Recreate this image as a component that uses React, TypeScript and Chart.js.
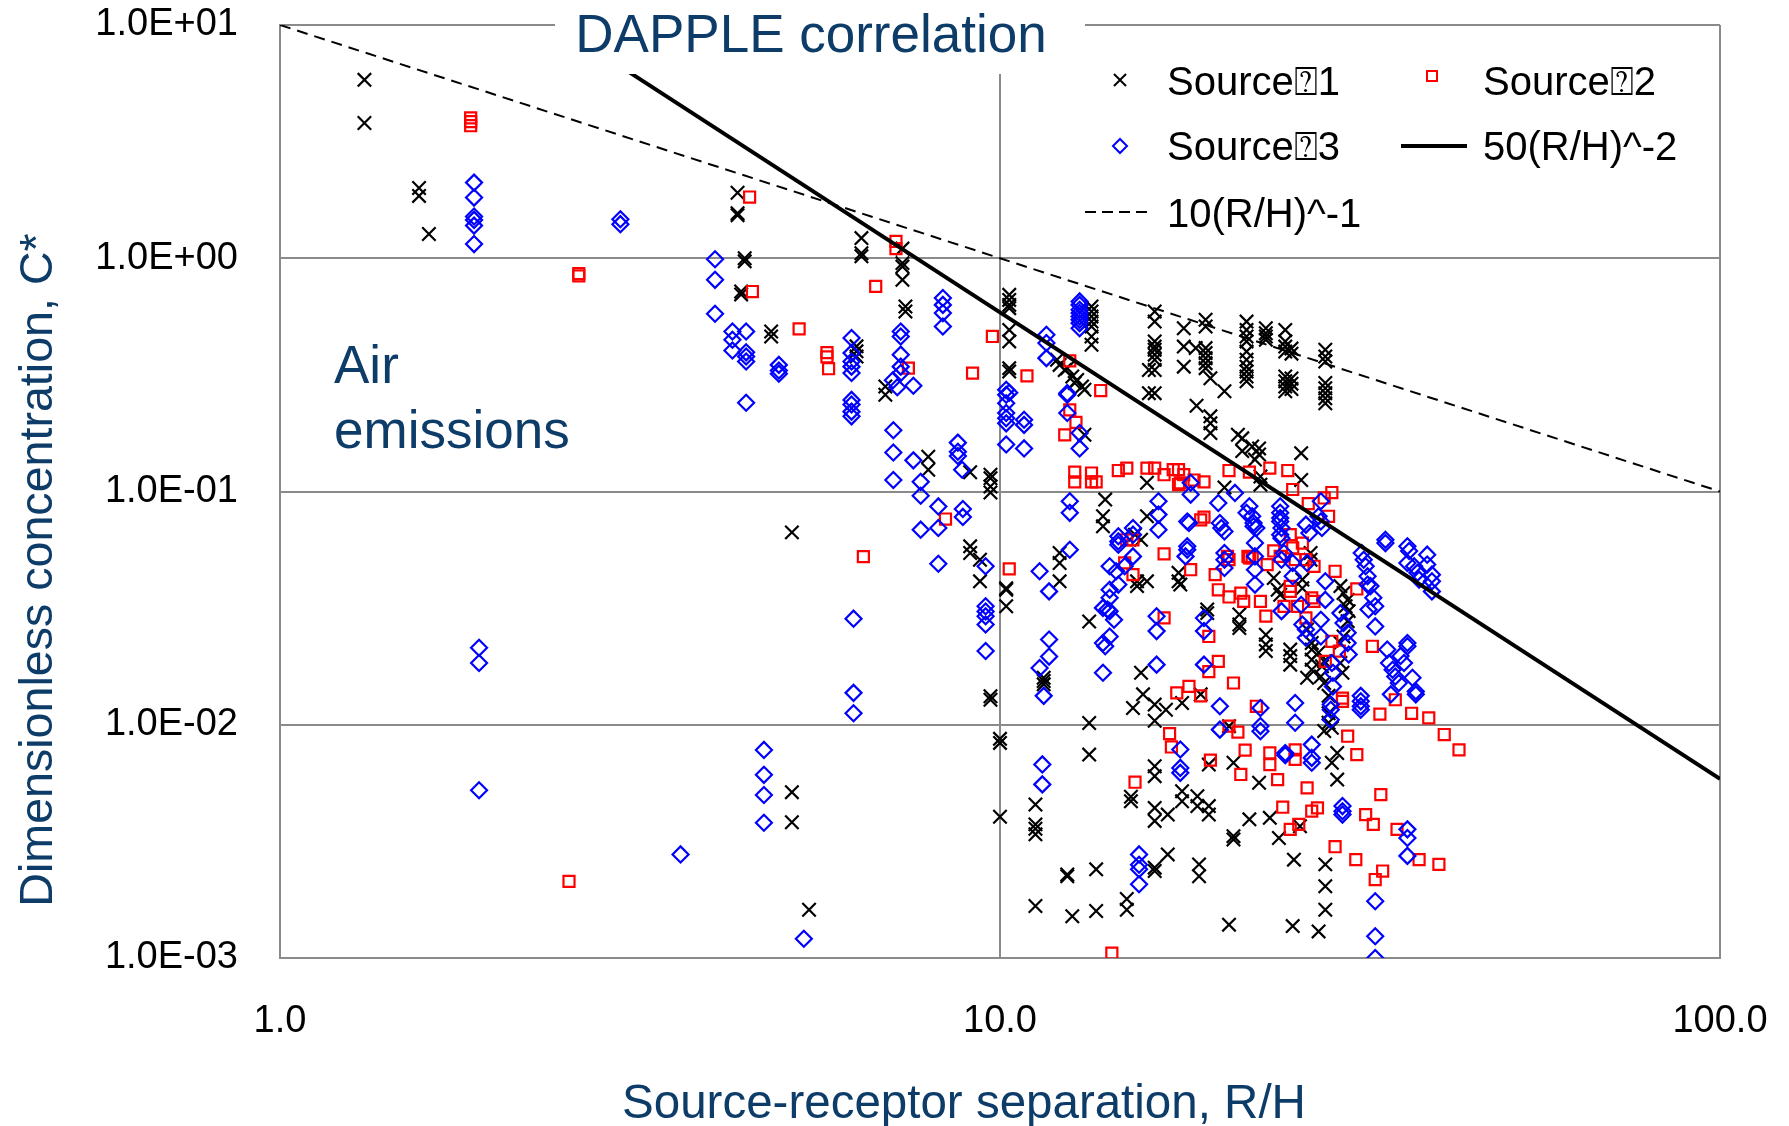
import React, { useEffect, useRef } from "react";
import { Chart, registerables } from "chart.js";

Chart.register(...registerables);

type Pt = [number, number];

// Source 1 (black crosses): [R/H, C*]
const source1: Pt[] = [
  [1.31, 5.82], [1.31, 3.8], [1.56, 2.0], [1.56, 1.85], [1.61, 1.27],
  [4.32, 1.91], [4.32, 1.56], [4.32, 1.53], [4.42, 1.0], [4.42, 0.97], [4.37, 0.72], [4.37, 0.7], [4.81, 0.485], [4.81, 0.462],
  [6.42, 1.22], [6.42, 1.05], [6.42, 1.02], [6.32, 0.419], [6.32, 0.399], [6.32, 0.379],
  [7.32, 1.1], [7.32, 0.953], [7.32, 0.921], [7.32, 0.808], [7.39, 0.621], [7.39, 0.591],
  [6.93, 0.282], [6.93, 0.26], [7.95, 0.141], [7.95, 0.124], [9.09, 0.121], [9.09, 0.0582], [9.09, 0.0545],
  [9.7, 0.118], [9.7, 0.114], [9.7, 0.105], [9.7, 0.099], [9.38, 0.051], [9.38, 0.0412],
  [9.7, 0.01325], [9.7, 0.0128], [10.0, 0.0087], [10.0, 0.00836], [10.0, 0.00403],
  [13.3, 0.0277], [13.3, 0.01017], [13.3, 0.00745], [11.5, 0.0159], [11.5, 0.0154], [11.5, 0.0149],
  [11.2, 0.00455], [11.2, 0.00374], [11.2, 0.00358], [11.2, 0.00339], [11.2, 0.00167], [12.4, 0.00228], [12.4, 0.00224],
  [13.6, 0.0024], [13.6, 0.00159], [12.6, 0.00151], [15.0, 0.00179], [15.0, 0.00161], [15.2, 0.00491], [15.2, 0.0047],
  [5.14, 0.0668], [5.14, 0.00514], [5.14, 0.00382], [5.43, 0.00161],
  [10.3, 0.697], [10.3, 0.663], [10.3, 0.631], [10.3, 0.611], [10.3, 0.493], [10.3, 0.44], [10.3, 0.338], [10.3, 0.327],
  [13.4, 0.621], [13.4, 0.591], [13.4, 0.563], [13.4, 0.535], [13.4, 0.51], [13.4, 0.462], [13.4, 0.426],
  [12.0, 0.367], [12.1, 0.349], [12.3, 0.332], [12.4, 0.338], [12.6, 0.311], [12.8, 0.301], [13.0, 0.282], [13.1, 0.273], [12.7, 0.292],
  [13.1, 0.175],
  [16.4, 0.591], [16.4, 0.535], [16.4, 0.44], [16.4, 0.418], [16.4, 0.405], [16.4, 0.386], [16.4, 0.367], [16.4, 0.332], [16.4, 0.264],
  [18.0, 0.501], [18.0, 0.418], [18.0, 0.343], [18.7, 0.412],
  [19.3, 0.545], [19.3, 0.51], [19.3, 0.412], [19.3, 0.392], [19.3, 0.373], [19.3, 0.355], [19.3, 0.338],
  [19.6, 0.306], [20.5, 0.269], [18.75, 0.233], [19.6, 0.21], [19.6, 0.196], [19.6, 0.178],
  [16.1, 0.332], [16.1, 0.264],
  [22.0, 0.535], [22.0, 0.493], [22.0, 0.462], [22.0, 0.44], [22.0, 0.398], [22.0, 0.367], [22.0, 0.343], [22.0, 0.327], [22.0, 0.311], [22.0, 0.297],
  [23.4, 0.501], [23.4, 0.477], [23.4, 0.462], [23.4, 0.447],
  [24.9, 0.493], [24.9, 0.44], [24.9, 0.418], [24.9, 0.398], [24.9, 0.311], [24.9, 0.297], [24.9, 0.282], [24.9, 0.269],
  [25.4, 0.41], [25.4, 0.39], [25.4, 0.305], [25.4, 0.29], [25.4, 0.275],
  [28.3, 0.405], [28.3, 0.379], [28.3, 0.361], [28.3, 0.292], [28.3, 0.277], [28.3, 0.264], [28.3, 0.251], [28.3, 0.239],
  [21.4, 0.175], [21.7, 0.169], [22.4, 0.156], [22.9, 0.153], [22.9, 0.144], [22.6, 0.137], [21.7, 0.149],
  [26.2, 0.146], [26.2, 0.112], [23.0, 0.116], [23.0, 0.107], [20.5, 0.104], [16.0, 0.109], [14.0, 0.0923],
  [10.2, 0.0385], [10.2, 0.0379], [10.2, 0.0322],
  [12.1, 0.0545], [12.1, 0.0494], [12.1, 0.0412],
  [13.9, 0.0783], [13.9, 0.0709],
  [15.4, 0.0653], [15.7, 0.0621], [15.5, 0.0412], [15.5, 0.0393], [16.0, 0.0412], [16.0, 0.0783],
  [17.7, 0.0448], [17.7, 0.0412], [17.8, 0.0399],
  [15.7, 0.0167], [15.8, 0.0135], [15.3, 0.0118], [16.4, 0.0122], [17.0, 0.0116], [17.9, 0.0124], [16.4, 0.0104], [19.0, 0.0135],
  [19.4, 0.0312], [19.4, 0.0301],
  [21.5, 0.0297], [21.5, 0.0269], [21.5, 0.026],
  [23.4, 0.0243], [23.4, 0.0221], [23.4, 0.0207],
  [25.3, 0.021], [25.3, 0.0197], [25.3, 0.0181],
  [24.0, 0.0426], [24.3, 0.0379], [24.5, 0.0361],
  [26.3, 0.0419], [26.3, 0.0385], [27.0, 0.0545], [27.0, 0.051],
  [26.7, 0.0256], [27.1, 0.0224], [27.1, 0.021], [27.1, 0.019], [27.1, 0.0172], [26.7, 0.0159],
  [27.7, 0.0204], [28.2, 0.0187], [28.0, 0.0178], [27.9, 0.0161],
  [29.7, 0.0393], [30.0, 0.0367], [30.4, 0.0343], [30.2, 0.0322], [30.5, 0.0307], [30.4, 0.0278], [30.0, 0.0239], [29.7, 0.0224], [29.7, 0.0184], [29.9, 0.0167],
  [28.6, 0.0112], [28.6, 0.0102], [28.9, 0.0097], [28.2, 0.0094], [28.2, 0.0151], [28.6, 0.0133],
  [20.8, 0.00986],
  [16.4, 0.00664], [16.4, 0.00602], [16.4, 0.0044], [16.4, 0.00387], [17.1, 0.00412],
  [17.1, 0.00278], [16.4, 0.00244], [16.4, 0.00236],
  [17.9, 0.00519], [17.9, 0.0047], [18.8, 0.00494], [18.8, 0.00448], [19.5, 0.00448], [19.5, 0.00412], [19.5, 0.00675],
  [21.1, 0.00687], [21.1, 0.00333], [21.1, 0.00322], [22.2, 0.00393], [22.9, 0.00564], [23.7, 0.00399], [24.4, 0.00327],
  [18.9, 0.00252], [18.9, 0.00224], [20.8, 0.00139],
  [25.6, 0.00264], [25.5, 0.00137], [27.7, 0.0013],
  [28.3, 0.00252], [28.3, 0.00203], [28.3, 0.00161],
  [29.4, 0.00757], [28.9, 0.00687], [29.4, 0.00582], [26.1, 0.00367],
];

// Source 2 (red squares)
const source2: Pt[] = [
  [1.84, 4.0], [1.84, 3.85], [1.84, 3.7], [2.6, 0.86], [2.6, 0.84], [2.52, 0.00213],
  [4.49, 1.83], [4.53, 0.72], [5.26, 0.498], [5.75, 0.394], [5.75, 0.378], [5.78, 0.336],
  [6.72, 0.757], [7.17, 1.18], [7.17, 1.1], [7.46, 0.338], [9.16, 0.322], [9.76, 0.462], [10.9, 0.313], [12.5, 0.363], [13.8, 0.271],
  [6.46, 0.0526], [8.4, 0.0762], [10.3, 0.0466], [14.3, 0.00105], [15.4, 0.00567],
  [12.3, 0.175], [12.5, 0.224], [12.75, 0.198],
  [12.7, 0.121], [12.7, 0.11], [13.4, 0.12], [13.4, 0.11], [13.6, 0.11], [14.6, 0.123], [15.0, 0.126], [16.0, 0.126], [16.4, 0.126], [16.9, 0.118],
  [17.4, 0.124], [17.7, 0.124], [18.0, 0.118], [17.8, 0.109], [18.6, 0.112], [19.2, 0.11], [17.7, 0.107],
  [20.8, 0.123], [22.2, 0.121], [23.7, 0.126], [25.1, 0.123], [25.5, 0.102], [26.8, 0.0887], [28.2, 0.0938], [28.9, 0.099],
  [15.0, 0.0621], [15.3, 0.0621], [15.3, 0.044], [14.9, 0.0494], [16.9, 0.054], [16.9, 0.0287], [18.4, 0.0462], [19.0, 0.0756], [19.2, 0.0777],
  [19.9, 0.044], [20.1, 0.0379], [20.8, 0.0353], [21.6, 0.0367], [21.8, 0.0338], [23.0, 0.0338], [23.4, 0.0292],
  [19.5, 0.0239], [20.1, 0.0187], [19.5, 0.0169], [21.1, 0.0151], [18.3, 0.0146], [17.6, 0.0137], [19.0, 0.0133],
  [20.7, 0.0527], [20.8, 0.051], [22.1, 0.0527], [22.2, 0.0519], [22.4, 0.0519],
  [23.5, 0.0486], [24.0, 0.0556], [24.5, 0.0527], [25.3, 0.0653], [25.5, 0.0573], [26.3, 0.0601], [25.7, 0.051], [26.6, 0.051], [27.3, 0.0478], [29.2, 0.0455],
  [25.3, 0.0392], [25.3, 0.0373], [24.8, 0.0322], [25.9, 0.0322], [27.1, 0.035], [27.3, 0.0338], [26.6, 0.0287],
  [31.3, 0.0382], [28.9, 0.0228], [29.6, 0.0207], [28.3, 0.0187], [29.9, 0.013], [29.9, 0.0126],
  [32.9, 0.0217], [35.4, 0.0128], [33.7, 0.0111], [37.3, 0.0112], [39.4, 0.0107], [41.4, 0.00908],
  [22.7, 0.012], [17.2, 0.00916], [20.8, 0.00986], [21.4, 0.0093], [30.4, 0.00893], [28.6, 0.0783],
  [17.3, 0.00803], [19.6, 0.00705], [21.6, 0.00612], [21.9, 0.00778], [23.7, 0.00757], [23.7, 0.00675], [24.3, 0.00582],
  [25.7, 0.0078], [25.7, 0.0071], [26.7, 0.00536], [24.7, 0.00443], [25.3, 0.00356], [26.0, 0.00374], [27.1, 0.00426], [27.6, 0.0044],
  [31.3, 0.00745], [29.2, 0.003], [31.2, 0.00264], [32.2, 0.00412], [33.0, 0.00374], [33.8, 0.00502], [35.6, 0.00356],
  [38.2, 0.00264], [40.7, 0.00252], [33.2, 0.00217], [34.0, 0.00236], [43.4, 0.0078],
];

// Source 3 (blue diamonds)
const source3: Pt[] = [
  [1.86, 2.11], [1.86, 1.82], [1.86, 1.51], [1.86, 1.46], [1.86, 1.38], [1.86, 1.15],
  [1.89, 0.0214], [1.89, 0.0184], [1.89, 0.00524],
  [2.97, 1.47], [2.97, 1.4],
  [4.02, 0.99], [4.02, 0.808], [4.02, 0.578],
  [4.25, 0.485], [4.25, 0.447], [4.25, 0.402],
  [4.44, 0.485], [4.44, 0.395], [4.44, 0.379], [4.44, 0.361], [4.44, 0.24],
  [4.93, 0.349], [4.93, 0.33], [4.93, 0.32],
  [4.7, 0.0078], [4.7, 0.0061], [4.7, 0.005], [4.7, 0.0038],
  [3.6, 0.00278], [5.34, 0.00121],
  [6.22, 0.455], [6.22, 0.392], [6.22, 0.361], [6.22, 0.343], [6.22, 0.322], [6.22, 0.247], [6.22, 0.236], [6.22, 0.22], [6.22, 0.21],
  [6.26, 0.0285], [6.26, 0.0137], [6.26, 0.0112],
  [7.11, 0.183], [7.11, 0.147], [7.11, 0.112],
  [7.58, 0.284], [7.58, 0.136],
  [7.28, 0.485], [7.28, 0.462], [7.28, 0.386], [7.28, 0.343], [7.28, 0.322], [7.1, 0.3], [7.2, 0.28],
  [8.33, 0.675], [8.33, 0.631], [8.33, 0.582], [8.33, 0.51],
  [7.76, 0.11], [7.76, 0.0959], [7.76, 0.0686],
  [8.21, 0.0863], [8.21, 0.0697], [8.21, 0.049],
  [8.74, 0.162], [8.74, 0.148], [8.74, 0.142], [8.86, 0.124],
  [8.88, 0.0841], [8.88, 0.0778],
  [9.55, 0.0478], [9.55, 0.0322], [9.55, 0.0306], [9.55, 0.0292], [9.55, 0.0269], [9.55, 0.0207],
  [10.2, 0.273], [10.3, 0.265], [10.2, 0.26], [10.2, 0.239], [10.2, 0.217], [10.2, 0.206], [10.2, 0.196], [10.2, 0.159],
  [10.8, 0.203], [10.8, 0.193], [10.8, 0.153],
  [11.35, 0.0455], [11.7, 0.0373], [11.7, 0.0232], [11.7, 0.0196], [11.35, 0.0175], [11.5, 0.0133],
  [12.4, 0.264], [12.4, 0.26], [12.4, 0.217],
  [12.9, 0.178], [12.9, 0.153],
  [12.5, 0.0908], [12.5, 0.081], [12.5, 0.0563],
  [11.45, 0.00676], [11.45, 0.00555],
  [15.6, 0.00278], [15.6, 0.00251], [15.6, 0.0024], [15.6, 0.00207],
  [12.9, 0.653], [12.9, 0.631], [12.9, 0.601], [12.9, 0.582], [12.9, 0.563], [12.9, 0.545], [12.9, 0.527], [12.9, 0.501],
  [11.6, 0.47], [11.6, 0.433], [11.6, 0.373],
  [16.6, 0.0908], [18.4, 0.109], [18.4, 0.097], [20.1, 0.0893], [21.2, 0.0986], [22.2, 0.0864], [24.5, 0.0864], [27.9, 0.0908],
  [13.9, 0.0167],
  [14.6, 0.0643], [14.6, 0.0611], [14.6, 0.0591], [14.2, 0.0478], [14.5, 0.0455], [14.6, 0.0399], [14.2, 0.0379], [14.2, 0.035],
  [13.9, 0.0317], [14.1, 0.0312], [14.2, 0.0307], [14.4, 0.0282], [14.2, 0.0239], [13.9, 0.0224], [14.0, 0.0217],
  [15.3, 0.0697], [15.3, 0.0653], [15.3, 0.0527], [14.9, 0.0478],
  [16.6, 0.0796], [16.6, 0.0686], [16.5, 0.0292], [16.5, 0.0252], [16.5, 0.0181],
  [18.2, 0.0744], [18.3, 0.0733], [18.2, 0.0582], [18.2, 0.0563], [18.1, 0.0527],
  [19.2, 0.0287], [19.2, 0.0252], [19.2, 0.0181],
  [20.2, 0.0733], [20.3, 0.0697], [20.5, 0.0674], [20.5, 0.0545], [20.5, 0.051], [20.5, 0.047],
  [20.2, 0.012], [20.2, 0.00953],
  [22.0, 0.081], [22.4, 0.0783], [22.5, 0.0733], [22.5, 0.0709], [22.7, 0.0697],
  [22.6, 0.0601], [22.6, 0.0527], [22.6, 0.0462], [22.6, 0.0399],
  [23.0, 0.0118], [23.0, 0.00987], [23.0, 0.00938],
  [24.5, 0.081], [24.5, 0.0769], [24.5, 0.0744], [24.6, 0.0697], [24.5, 0.0653], [24.6, 0.0631],
  [24.8, 0.0545], [24.6, 0.051], [25.5, 0.0494], [25.5, 0.0433], [24.6, 0.0307],
  [25.7, 0.0124], [25.7, 0.0102],
  [26.2, 0.0327], [26.3, 0.0269], [26.6, 0.0256], [26.6, 0.0236],
  [26.6, 0.0721], [26.9, 0.0664], [26.7, 0.0494],
  [27.7, 0.0783], [27.9, 0.0744], [28.0, 0.0697], [27.9, 0.0282], [27.9, 0.0239],
  [28.3, 0.0412], [28.3, 0.0343],
  [28.9, 0.0184], [29.0, 0.0167], [29.0, 0.0146], [28.8, 0.0122], [28.8, 0.0116], [28.8, 0.0105],
  [29.7, 0.0301], [30.0, 0.0273], [30.4, 0.0248], [30.4, 0.0224], [30.5, 0.02],
  [31.7, 0.0133], [31.7, 0.0126], [31.7, 0.012], [31.7, 0.0116],
  [31.8, 0.0545], [32.0, 0.051], [32.2, 0.0478], [32.4, 0.0433], [32.4, 0.0399], [32.7, 0.0393], [32.5, 0.0312], [33.0, 0.035], [33.2, 0.0322], [33.2, 0.0264],
  [34.3, 0.0621], [34.3, 0.0601],
  [34.5, 0.021], [34.7, 0.0184], [35.1, 0.0172], [35.4, 0.0161], [34.9, 0.0135], [35.8, 0.0151], [36.0, 0.0197], [36.4, 0.0184],
  [36.8, 0.0224], [36.8, 0.0217], [37.4, 0.0159], [37.8, 0.0139], [37.8, 0.0135],
  [36.8, 0.0582], [37.0, 0.0556], [36.8, 0.0494], [37.6, 0.0478], [38.0, 0.0448], [38.2, 0.0419], [39.2, 0.0536], [39.2, 0.0486],
  [39.8, 0.044], [39.8, 0.0412], [39.8, 0.0373],
  [17.8, 0.00783], [17.8, 0.00653], [17.8, 0.00622],
  [24.9, 0.00757], [24.9, 0.0074], [27.1, 0.00822], [27.1, 0.00721], [27.1, 0.00687],
  [29.9, 0.00448], [29.9, 0.00426], [29.9, 0.00412],
  [33.2, 0.00175], [33.2, 0.00124], [33.2, 0.001],
  [36.8, 0.00356], [36.8, 0.00327], [36.8, 0.00274],
];

// Reference lines (end points)
const correlationLine: Pt[] = [[2.9, 6.97], [100, 0.00586]];
const upperLine: Pt[] = [[1, 10], [100, 0.1]];

const seriesLabels = ["Source\u23701", "Source\u23702", "Source\u23703", "50(R/H)^-2", "10(R/H)^-1"];
const xTickValues = [1, 10, 100];
const xTickLabels = ["1.0", "10.0", "100.0"];
const yTickValues = [0.001, 0.01, 0.1, 1, 10];
const yTickLabels = ["1.0E-03", "1.0E-02", "1.0E-01", "1.0E+00", "1.0E+01"];
const chartTitle = "DAPPLE correlation";
const annotationLines = ["Air", "emissions"];
const xTitle = "Source-receptor separation, R/H";
const yTitle = "Dimensionless concentration, C*";

const FONT = "'Liberation Sans', Arial, sans-serif";
const NAVY = "#0d3c69";
const GRID = "#8a8a8a";
const W = 1789;
const H = 1126;

const toXY = (pts: Pt[]) => pts.map(([x, y]) => ({ x, y }));

const zeroPadding = (s: any) => {
  s.paddingLeft = 0;
  s.paddingRight = 0;
  s.paddingTop = 0;
  s.paddingBottom = 0;
};

const overlayPlugin = {
  id: "overlayText",
  afterDraw(chart: any) {
    const ctx: CanvasRenderingContext2D = chart.ctx;
    ctx.save();
    // white box behind the title
    ctx.fillStyle = "#ffffff";
    ctx.fillRect(555, 0, 530, 74);
    ctx.fillStyle = NAVY;
    ctx.textBaseline = "alphabetic";
    ctx.font = `53px ${FONT}`;
    ctx.textAlign = "center";
    ctx.fillText(chartTitle, 811, 52);
    ctx.textAlign = "left";
    ctx.fillText(annotationLines[0], 334, 383);
    ctx.fillText(annotationLines[1], 334, 448);
    // axis titles
    ctx.textAlign = "center";
    ctx.font = `47.5px ${FONT}`;
    ctx.fillText(xTitle, 964, 1118);
    ctx.save();
    ctx.translate(52, 570);
    ctx.rotate(-Math.PI / 2);
    ctx.font = `46.6px ${FONT}`;
    ctx.fillText(yTitle, 0, 0);
    ctx.restore();

    // legend
    ctx.textAlign = "left";
    ctx.fillStyle = "#000";
    ctx.font = `40px ${FONT}`;
    ctx.fillText(seriesLabels[0], 1167, 95);
    ctx.fillText(seriesLabels[1], 1483, 95);
    ctx.fillText(seriesLabels[2], 1167, 160);
    ctx.fillText(seriesLabels[3], 1483, 160);
    ctx.fillText(seriesLabels[4], 1167, 227);

    ctx.lineWidth = 2;
    ctx.strokeStyle = "#000";
    ctx.beginPath();
    ctx.moveTo(1114, 74); ctx.lineTo(1126, 86);
    ctx.moveTo(1126, 74); ctx.lineTo(1114, 86);
    ctx.stroke();

    ctx.strokeStyle = "#ff0000";
    ctx.strokeRect(1427, 71, 10, 10);

    ctx.strokeStyle = "#0000ff";
    ctx.beginPath();
    ctx.moveTo(1113, 146); ctx.lineTo(1120, 139); ctx.lineTo(1127, 146); ctx.lineTo(1120, 153); ctx.closePath();
    ctx.stroke();

    ctx.strokeStyle = "#000";
    ctx.lineWidth = 4;
    ctx.beginPath();
    ctx.moveTo(1401, 146); ctx.lineTo(1467, 146);
    ctx.stroke();

    ctx.lineWidth = 2;
    ctx.setLineDash([11, 6]);
    ctx.beginPath();
    ctx.moveTo(1085, 212); ctx.lineTo(1150, 212);
    ctx.stroke();
    ctx.restore();
  },
};

export default function App() {
  const canvasRef = useRef<HTMLCanvasElement | null>(null);

  useEffect(() => {
    const canvas = canvasRef.current;
    if (!canvas) return;
    const chart = new Chart(canvas, {
      type: "scatter",
      data: {
        datasets: [
          {
            label: seriesLabels[0],
            data: toXY(source1),
            pointStyle: "crossRot",
            pointRadius: 9.5,
            borderColor: "#000000",
            backgroundColor: "rgba(0,0,0,0)",
            pointBorderWidth: 2.2,
            borderWidth: 2.2,
            order: 4,
          },
          {
            label: seriesLabels[1],
            data: toXY(source2),
            pointStyle: "rect",
            pointRadius: 7.8,
            borderColor: "#ff0000",
            backgroundColor: "rgba(0,0,0,0)",
            pointBorderWidth: 2.2,
            borderWidth: 2.2,
            order: 3,
          },
          {
            label: seriesLabels[2],
            data: toXY(source3),
            pointStyle: "rectRot",
            pointRadius: 8,
            borderColor: "#0000ff",
            backgroundColor: "rgba(0,0,0,0)",
            pointBorderWidth: 2.2,
            borderWidth: 2.2,
            order: 2,
          },
          {
            label: seriesLabels[3],
            data: toXY(correlationLine),
            showLine: true,
            pointRadius: 0,
            borderColor: "#000000",
            borderWidth: 4,
            order: 0,
          },
          {
            label: seriesLabels[4],
            data: toXY(upperLine),
            showLine: true,
            pointRadius: 0,
            borderColor: "#000000",
            borderWidth: 2,
            borderDash: [11, 7],
            order: 1,
          },
        ] as any,
      },
      options: {
        animation: false,
        responsive: false,
        devicePixelRatio: 1,
        events: [],
        layout: { padding: { left: 0, top: 25, right: 69, bottom: 0 } },
        plugins: {
          legend: { display: false },
          tooltip: { enabled: false },
          title: { display: false },
        },
        scales: {
          x: {
            type: "logarithmic",
            min: 1,
            max: 100,
            afterFit: (s: any) => {
              s.height = H - 958;
              zeroPadding(s);
            },
            afterBuildTicks: (s: any) => {
              s.ticks = xTickValues.map((v) => ({ value: v }));
            },
            ticks: {
              autoSkip: false,
              maxRotation: 0,
              padding: 41,
              color: "#000",
              font: { family: FONT, size: 38 },
              callback: (_v: any, i: number) => xTickLabels[i],
            },
            grid: { color: GRID, lineWidth: 2, drawTicks: false },
            border: { color: GRID, width: 2 },
          },
          y: {
            type: "logarithmic",
            min: 0.001,
            max: 10,
            afterFit: (s: any) => {
              s.width = 280;
              zeroPadding(s);
            },
            afterBuildTicks: (s: any) => {
              s.ticks = yTickValues.map((v) => ({ value: v }));
            },
            ticks: {
              autoSkip: false,
              padding: 42,
              color: "#000",
              font: { family: FONT, size: 38 },
              callback: (_v: any, i: number) => yTickLabels[i],
            },
            grid: { color: GRID, lineWidth: 2, drawTicks: false },
            border: { color: GRID, width: 2 },
          },
        },
      } as any,
      plugins: [overlayPlugin],
    });
    return () => chart.destroy();
  }, []);

  return (
    <div style={{ position: "absolute", left: 0, top: 0, width: W, height: H, background: "#fff" }}>
      <canvas ref={canvasRef} width={W} height={H} style={{ display: "block", width: W, height: H }} />
    </div>
  );
}
